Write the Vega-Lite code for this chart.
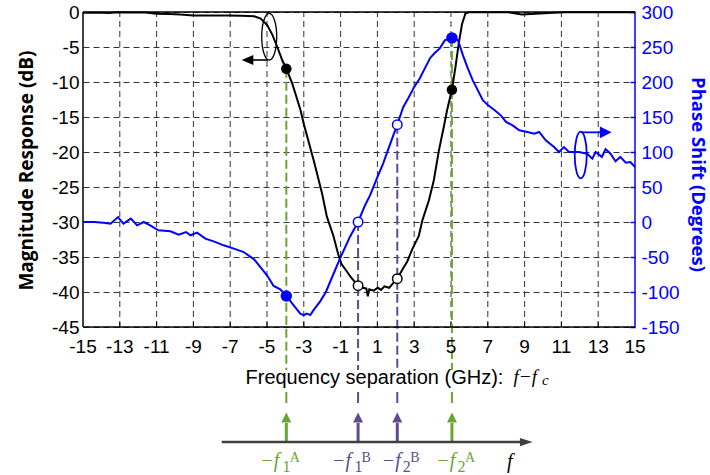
{
  "$schema": "https://vega.github.io/schema/vega-lite/v6.json",
  "width": 552,
  "height": 463,
  "autosize": {"type": "none"},
  "padding": {"left": 83, "top": 12, "right": 75, "bottom": 0},
  "background": "white",
  "config": {"view": {"stroke": null}, "font": "Liberation Sans"},
  "datasets": {
    "mag": [
      {"f": -15, "db": -0.1}, {"f": -14.5, "db": -0.12}, {"f": -14.0, "db": -0.1}, {"f": -13.6, "db": -0.15},
      {"f": -13.1, "db": -0.02}, {"f": -12.5, "db": -0.08}, {"f": -11.6, "db": -0.08}, {"f": -11.0, "db": -0.25},
      {"f": -10.3, "db": -0.3}, {"f": -9.7, "db": -0.35}, {"f": -9.0, "db": -0.5}, {"f": -8.0, "db": -0.5},
      {"f": -7.1, "db": -0.5}, {"f": -6.4, "db": -0.55}, {"f": -5.7, "db": -0.6}, {"f": -5.34, "db": -0.95},
      {"f": -4.98, "db": -1.9}, {"f": -4.7, "db": -3.3}, {"f": -4.44, "db": -5.0}, {"f": -4.17, "db": -6.9},
      {"f": -3.95, "db": -8.1}, {"f": -3.63, "db": -10.2}, {"f": -3.18, "db": -14.0}, {"f": -3.0, "db": -16.0},
      {"f": -2.46, "db": -21.2}, {"f": -2.0, "db": -26.0}, {"f": -1.75, "db": -29.2}, {"f": -1.39, "db": -32.0},
      {"f": -1.13, "db": -34.6}, {"f": -0.95, "db": -36.0}, {"f": -0.68, "db": -37.0}, {"f": -0.41, "db": -38.0},
      {"f": -0.05, "db": -39.1}, {"f": 0.21, "db": -39.4}, {"f": 0.4, "db": -39.5}, {"f": 0.48, "db": -40.6},
      {"f": 0.56, "db": -39.6}, {"f": 0.8, "db": -39.8}, {"f": 1.02, "db": -39.4}, {"f": 1.2, "db": -39.7},
      {"f": 1.38, "db": -39.2}, {"f": 1.64, "db": -39.4}, {"f": 1.8, "db": -38.9}, {"f": 2.08, "db": -38.1},
      {"f": 2.36, "db": -36.8}, {"f": 2.63, "db": -35.6}, {"f": 2.89, "db": -33.9}, {"f": 3.25, "db": -32.0},
      {"f": 3.44, "db": -29.8}, {"f": 3.8, "db": -26.9}, {"f": 4.07, "db": -24.0}, {"f": 4.34, "db": -19.8},
      {"f": 4.61, "db": -16.4}, {"f": 4.79, "db": -14.0}, {"f": 5.05, "db": -11.1}, {"f": 5.24, "db": -7.9},
      {"f": 5.42, "db": -4.5}, {"f": 5.6, "db": -1.7}, {"f": 5.78, "db": -0.24}, {"f": 5.96, "db": -0.05},
      {"f": 7.2, "db": -0.02}, {"f": 8.1, "db": -0.05}, {"f": 8.85, "db": -0.35}, {"f": 9.57, "db": -0.25},
      {"f": 10.3, "db": -0.15}, {"f": 11.2, "db": -0.02}, {"f": 12.1, "db": -0.03}, {"f": 13.5, "db": -0.05},
      {"f": 15.0, "db": -0.05}
    ],
    "phase": [
      {"f": -15, "deg": 0}, {"f": -14.4, "deg": 0}, {"f": -13.9, "deg": -1}, {"f": -13.5, "deg": -2.4},
      {"f": -13.1, "deg": 7}, {"f": -12.8, "deg": -2.4}, {"f": -12.4, "deg": 4.8}, {"f": -12.06, "deg": -4.8},
      {"f": -11.7, "deg": 0}, {"f": -11.3, "deg": -5.7}, {"f": -10.9, "deg": -11.9}, {"f": -10.25, "deg": -13.3},
      {"f": -9.8, "deg": -18}, {"f": -9.4, "deg": -14.3}, {"f": -9.16, "deg": -19}, {"f": -8.8, "deg": -15.2},
      {"f": -8.35, "deg": -23.8}, {"f": -7.9, "deg": -27.6}, {"f": -7.35, "deg": -33.3}, {"f": -6.8, "deg": -38},
      {"f": -6.27, "deg": -42.9}, {"f": -5.7, "deg": -53.3}, {"f": -5.36, "deg": -64.3}, {"f": -5.0, "deg": -76.2},
      {"f": -4.64, "deg": -91.4}, {"f": -4.28, "deg": -96.2}, {"f": -3.95, "deg": -105.7}, {"f": -3.55, "deg": -119},
      {"f": -3.19, "deg": -131}, {"f": -3.0, "deg": -133}, {"f": -2.83, "deg": -131}, {"f": -2.65, "deg": -133},
      {"f": -2.47, "deg": -126}, {"f": -2.1, "deg": -113}, {"f": -1.8, "deg": -100}, {"f": -1.4, "deg": -75},
      {"f": -1.03, "deg": -52}, {"f": -0.49, "deg": -21}, {"f": -0.05, "deg": 0}, {"f": 0.33, "deg": 24},
      {"f": 0.6, "deg": 38}, {"f": 1.0, "deg": 64}, {"f": 1.32, "deg": 84}, {"f": 1.7, "deg": 112},
      {"f": 2.08, "deg": 139}, {"f": 2.4, "deg": 164}, {"f": 2.7, "deg": 178}, {"f": 3.0, "deg": 193},
      {"f": 3.3, "deg": 205}, {"f": 3.55, "deg": 218}, {"f": 3.86, "deg": 234}, {"f": 4.1, "deg": 241},
      {"f": 4.39, "deg": 248}, {"f": 4.66, "deg": 259.5}, {"f": 5.05, "deg": 263}, {"f": 5.38, "deg": 259.5},
      {"f": 5.65, "deg": 238}, {"f": 5.92, "deg": 219}, {"f": 6.19, "deg": 202}, {"f": 6.46, "deg": 188},
      {"f": 6.73, "deg": 174}, {"f": 7.0, "deg": 167}, {"f": 7.36, "deg": 160}, {"f": 7.72, "deg": 152},
      {"f": 7.99, "deg": 143}, {"f": 8.35, "deg": 138}, {"f": 8.71, "deg": 131}, {"f": 9.16, "deg": 128.6},
      {"f": 9.52, "deg": 126}, {"f": 9.79, "deg": 128.6}, {"f": 10.15, "deg": 116.7}, {"f": 10.6, "deg": 107},
      {"f": 10.87, "deg": 100}, {"f": 11.14, "deg": 107}, {"f": 11.41, "deg": 100}, {"f": 11.95, "deg": 100},
      {"f": 12.4, "deg": 97.6}, {"f": 12.68, "deg": 90.5}, {"f": 12.86, "deg": 100}, {"f": 13.2, "deg": 93},
      {"f": 13.4, "deg": 104}, {"f": 13.67, "deg": 97.6}, {"f": 13.94, "deg": 86.7}, {"f": 14.2, "deg": 93},
      {"f": 14.5, "deg": 84.8}, {"f": 14.75, "deg": 85.7}, {"f": 15.0, "deg": 78.6}
    ],
    "magMarkers": [
      {"f": -3.95, "db": -8.1, "kind": "filled"}, {"f": 5.05, "db": -11.1, "kind": "filled"},
      {"f": -0.05, "db": -39.1, "kind": "open"}, {"f": 2.08, "db": -38.1, "kind": "open"}
    ],
    "phaseMarkers": [
      {"f": -3.95, "deg": -105.7, "kind": "filled"}, {"f": 5.05, "deg": 263, "kind": "filled"},
      {"f": -0.05, "deg": 0, "kind": "open"}, {"f": 2.08, "deg": 139, "kind": "open"}
    ],
    "tones": [
      {"f": -3.95, "top": -8.1, "pair": "A", "idx": "1"},
      {"f": -0.05, "top": -30, "pair": "B", "idx": "1"},
      {"f": 2.08, "top": -16.1, "pair": "B", "idx": "2"},
      {"f": 5.05, "top": -3.7, "pair": "A", "idx": "2"}
    ],
    "vgrid": [
      {"f": -13}, {"f": -11}, {"f": -9}, {"f": -7}, {"f": -5}, {"f": -3}, {"f": -1},
      {"f": 1}, {"f": 3}, {"f": 5}, {"f": 7}, {"f": 9}, {"f": 11}, {"f": 13}
    ],
    "xticks": [
      {"f": -15}, {"f": -13}, {"f": -11}, {"f": -9}, {"f": -7}, {"f": -5}, {"f": -3}, {"f": -1},
      {"f": 1}, {"f": 3}, {"f": 5}, {"f": 7}, {"f": 9}, {"f": 11}, {"f": 13}, {"f": 15}
    ]
  },
  "resolve": {"scale": {"y": "independent"}},
  "layer": [
    {
      "layer": [
        {
          "data": {"name": "vgrid"},
          "mark": {"type": "rule", "color": "#333333", "strokeWidth": 1, "strokeDash": [6, 4]},
          "encoding": {
            "x": {"field": "f", "type": "quantitative", "scale": {"domain": [-15, 15], "nice": false, "zero": false}},
            "y": {"datum": -45, "type": "quantitative", "scale": {"domain": [-66.142857, 0], "nice": false, "zero": false}},
            "y2": {"datum": 0}
          }
        },
        {
          "data": {"name": "vgrid"},
          "mark": {"type": "rule", "color": "#000000", "strokeWidth": 1},
          "encoding": {
            "x": {"field": "f", "type": "quantitative"},
            "y": {"datum": -45},
            "y2": {"datum": -44.3}
          }
        },
        {
          "data": {"name": "tones"},
          "mark": {"type": "rule", "strokeWidth": 2, "strokeDash": [9, 4]},
          "encoding": {
            "x": {"field": "f", "type": "quantitative"},
            "y": {"field": "top", "type": "quantitative"},
            "y2": {"datum": -51.14},
            "color": {"field": "pair", "type": "nominal", "scale": {"domain": ["A", "B"], "range": ["#6aa52f", "#5f4b8b"]}, "legend": null}
          }
        },
        {
          "data": {"name": "tones"},
          "mark": {"type": "rule", "strokeWidth": 2},
          "encoding": {
            "x": {"field": "f", "type": "quantitative"},
            "y": {"datum": -54.29},
            "y2": {"datum": -55.86},
            "color": {"field": "pair", "type": "nominal", "legend": null}
          }
        },
        {
          "data": {"values": [{}]},
          "mark": {"type": "rule", "color": "#000000", "strokeWidth": 1.5},
          "encoding": {"x": {"datum": -15}, "y": {"datum": -45}, "y2": {"datum": 0}}
        },
        {
          "data": {"values": [{}]},
          "mark": {"type": "rule", "color": "#000000", "strokeWidth": 1.5},
          "encoding": {"x": {"datum": -15}, "x2": {"datum": 15}, "y": {"datum": 0}}
        },
        {
          "data": {"values": [{}]},
          "mark": {"type": "rule", "color": "#000000", "strokeWidth": 1.5},
          "encoding": {"x": {"datum": -15}, "x2": {"datum": 15}, "y": {"datum": -45}}
        },
        {
          "data": {"values": [{}]},
          "mark": {"type": "rule", "color": "#0000FF", "strokeWidth": 1.5},
          "encoding": {"x": {"datum": 15}, "y": {"datum": -45}, "y2": {"datum": 0}}
        },
        {
          "data": {"name": "xticks"},
          "mark": {"type": "text", "fontSize": 19, "font": "Liberation Sans", "align": "center", "baseline": "alphabetic", "color": "#000000"},
          "encoding": {
            "x": {"field": "f", "type": "quantitative"},
            "y": {"datum": -48.71},
            "text": {"field": "f", "type": "nominal"}
          }
        },
        {
          "data": {"name": "mag"},
          "mark": {"type": "line", "color": "#000000", "strokeWidth": 2},
          "encoding": {
            "x": {
              "field": "f", "type": "quantitative",
              "axis": {
                "values": [-15, -13, -11, -9, -7, -5, -3, -1, 1, 3, 5, 7, 9, 11, 13, 15],
                "labels": false,
                "offset": -148, "domain": false, "ticks": false, "grid": false,
                "title": "Frequency separation (GHz):",
                "titleX": 162, "titleY": 56, "titleAlign": "left", "titleBaseline": "alphabetic",
                "titleFontSize": 20, "titleFontWeight": "normal", "titleFont": "Liberation Sans", "titleColor": "#000000"
              }
            },
            "y": {
              "field": "db", "type": "quantitative",
              "axis": {
                "values": [-45, -40, -35, -30, -25, -20, -15, -10, -5, 0],
                "labelExpr": "'' + datum.value",
                "labelOverlap": false,
                "domain": false, "ticks": false, "grid": true,
                "gridColor": "#333333", "gridDash": [6, 4], "gridWidth": 1,
                "labelPadding": 4, "labelFontSize": 19, "labelColor": "#000000", "labelFont": "Liberation Sans",
                "title": "Magnitude Response (dB)",
                "titleFont": "Open Sans", "titleFontWeight": "bold", "titleFontSize": 19, "titleColor": "#000000",
                "titleAngle": 270, "titleX": -57, "titleY": 158, "titleAlign": "center", "titleBaseline": "middle"
              }
            }
          }
        },
        {
          "data": {"name": "magMarkers"},
          "transform": [{"filter": "datum.kind == 'filled'"}],
          "mark": {"type": "circle", "color": "#000000", "size": 110, "opacity": 1},
          "encoding": {"x": {"field": "f", "type": "quantitative"}, "y": {"field": "db", "type": "quantitative"}}
        },
        {
          "data": {"name": "magMarkers"},
          "transform": [{"filter": "datum.kind == 'open'"}],
          "mark": {"type": "circle", "fill": "#ffffff", "stroke": "#000000", "strokeWidth": 1.5, "size": 90, "opacity": 1},
          "encoding": {"x": {"field": "f", "type": "quantitative"}, "y": {"field": "db", "type": "quantitative"}}
        },
        {
          "data": {"values": [{}]},
          "mark": {"type": "point", "shape": "M0,-1C0.178,-1,0.322,-0.552,0.322,0C0.322,0.552,0.178,1,0,1C-0.178,1,-0.322,0.552,-0.322,0C-0.322,-0.552,-0.178,-1,0,-1Z", "size": 2172, "filled": false, "color": "#000000", "strokeWidth": 1.3, "opacity": 1},
          "encoding": {"x": {"datum": -4.88}, "y": {"datum": -3.53}}
        },
        {
          "data": {"values": [{}]},
          "mark": {"type": "rule", "color": "#000000", "strokeWidth": 1.6},
          "encoding": {"x": {"datum": -4.946}, "x2": {"datum": -5.815}, "y": {"datum": -6.857}}
        },
        {
          "data": {"values": [{}]},
          "mark": {"type": "point", "shape": "M1,-0.86L-1,0L1,0.86Z", "size": 135, "filled": true, "color": "#000000", "strokeWidth": 0, "opacity": 1},
          "encoding": {"x": {"datum": -6.06}, "y": {"datum": -6.857}}
        },
        {
          "data": {"values": [{}]},
          "mark": {"type": "point", "shape": "M0,-1C0.142,-1,0.258,-0.552,0.258,0C0.258,0.552,0.142,1,0,1C-0.142,1,-0.258,0.552,-0.258,0C-0.258,-0.552,-0.142,-1,0,-1Z", "size": 2172, "filled": false, "color": "#0000FF", "strokeWidth": 1.8, "opacity": 1},
          "encoding": {"x": {"datum": 12.05}, "y": {"datum": -20.43}}
        },
        {
          "data": {"values": [{}]},
          "mark": {"type": "rule", "color": "#0000FF", "strokeWidth": 1.8},
          "encoding": {"x": {"datum": 12.1}, "x2": {"datum": 13.15}, "y": {"datum": -17.19}}
        },
        {
          "data": {"values": [{}]},
          "mark": {"type": "point", "shape": "M-1,-1L1,0L-1,1Z", "size": 137, "filled": true, "color": "#0000FF", "strokeWidth": 0, "opacity": 1},
          "encoding": {"x": {"datum": 13.41}, "y": {"datum": -17.19}}
        },
        {
          "data": {"name": "tones"},
          "mark": {"type": "rule", "strokeWidth": 3},
          "encoding": {
            "x": {"field": "f", "type": "quantitative"},
            "y": {"datum": -61.43},
            "y2": {"datum": -58.71},
            "color": {"field": "pair", "type": "nominal", "legend": null}
          }
        },
        {
          "data": {"name": "tones"},
          "mark": {"type": "point", "shape": "M-1,1L0,-1L1,1Z", "size": 100, "filled": true, "strokeWidth": 0, "opacity": 1},
          "encoding": {
            "x": {"field": "f", "type": "quantitative"},
            "y": {"datum": -57.93},
            "color": {"field": "pair", "type": "nominal", "legend": null}
          }
        },
        {
          "data": {"values": [{}]},
          "mark": {"type": "rule", "color": "#404040", "strokeWidth": 2.5},
          "encoding": {"x": {"datum": -7.46}, "x2": {"datum": 8.8}, "y": {"datum": -61.43}}
        },
        {
          "data": {"values": [{}]},
          "mark": {"type": "point", "shape": "M-1,-0.65L1,0L-1,0.65Z", "size": 161, "filled": true, "color": "#404040", "strokeWidth": 0, "opacity": 1},
          "encoding": {"x": {"datum": 9.09}, "y": {"datum": -61.43}}
        },
        {
          "data": {"name": "tones"},
          "transform": [{"filter": "datum.f < 1"}],
          "mark": {"type": "text", "text": "−f", "font": "Liberation Serif", "fontStyle": "italic", "fontSize": 20, "align": "left", "baseline": "alphabetic", "dx": -26},
          "encoding": {"x": {"field": "f", "type": "quantitative"}, "y": {"datum": -65.0}, "color": {"field": "pair", "type": "nominal", "legend": null}}
        },
        {
          "data": {"name": "tones"},
          "transform": [{"filter": "datum.f < 1"}],
          "mark": {"type": "text", "font": "Liberation Serif", "fontSize": 16, "align": "left", "baseline": "alphabetic", "dx": -3.7},
          "encoding": {"x": {"field": "f", "type": "quantitative"}, "y": {"datum": -65.67}, "text": {"field": "idx"}, "color": {"field": "pair", "type": "nominal", "legend": null}}
        },
        {
          "data": {"name": "tones"},
          "transform": [{"filter": "datum.f < 1"}],
          "mark": {"type": "text", "font": "Liberation Serif", "fontSize": 14, "align": "left", "baseline": "alphabetic", "dx": 3.4},
          "encoding": {"x": {"field": "f", "type": "quantitative"}, "y": {"datum": -64.24}, "text": {"field": "pair"}, "color": {"field": "pair", "type": "nominal", "legend": null}}
        },
        {
          "data": {"name": "tones"},
          "transform": [{"filter": "datum.f > 1"}],
          "mark": {"type": "text", "text": "−f", "font": "Liberation Serif", "fontStyle": "italic", "fontSize": 20, "align": "left", "baseline": "alphabetic", "dx": -15.6},
          "encoding": {"x": {"field": "f", "type": "quantitative"}, "y": {"datum": -65.0}, "color": {"field": "pair", "type": "nominal", "legend": null}}
        },
        {
          "data": {"name": "tones"},
          "transform": [{"filter": "datum.f > 1"}],
          "mark": {"type": "text", "font": "Liberation Serif", "fontSize": 16, "align": "left", "baseline": "alphabetic", "dx": 5.5},
          "encoding": {"x": {"field": "f", "type": "quantitative"}, "y": {"datum": -65.67}, "text": {"field": "idx"}, "color": {"field": "pair", "type": "nominal", "legend": null}}
        },
        {
          "data": {"name": "tones"},
          "transform": [{"filter": "datum.f > 1"}],
          "mark": {"type": "text", "font": "Liberation Serif", "fontSize": 14, "align": "left", "baseline": "alphabetic", "dx": 13},
          "encoding": {"x": {"field": "f", "type": "quantitative"}, "y": {"datum": -64.24}, "text": {"field": "pair"}, "color": {"field": "pair", "type": "nominal", "legend": null}}
        },
        {
          "data": {"values": [{}]},
          "mark": {"type": "text", "text": "f", "font": "Liberation Serif", "fontStyle": "italic", "fontSize": 20, "align": "left", "baseline": "alphabetic", "color": "#000000"},
          "encoding": {"x": {"datum": 8.04}, "y": {"datum": -65.1}}
        },
        {
          "data": {"values": [{}]},
          "mark": {"type": "text", "text": "f−f", "font": "Liberation Serif", "fontStyle": "italic", "fontSize": 19, "align": "left", "baseline": "alphabetic", "color": "#000000"},
          "encoding": {"x": {"datum": 8.4}, "y": {"datum": -52.96}}
        },
        {
          "data": {"values": [{}]},
          "mark": {"type": "text", "text": "c", "font": "Liberation Serif", "fontStyle": "italic", "fontSize": 15, "align": "left", "baseline": "alphabetic", "color": "#000000"},
          "encoding": {"x": {"datum": 9.95}, "y": {"datum": -53.29}}
        }
      ]
    },
    {
      "layer": [
        {
          "data": {"name": "phase"},
          "mark": {"type": "line", "color": "#0000FF", "strokeWidth": 2},
          "encoding": {
            "x": {"field": "f", "type": "quantitative"},
            "y": {
              "field": "deg", "type": "quantitative",
              "scale": {"domain": [-361.428571, 300], "nice": false, "zero": false},
              "axis": {
                "orient": "right",
                "values": [-150, -100, -50, 0, 50, 100, 150, 200, 250, 300],
                "labelExpr": "'' + datum.value",
                "labelOverlap": false,
                "domain": false, "grid": false, "ticks": true, "tickSize": -5, "tickColor": "#0000FF", "tickWidth": 1.5,
                "labelPadding": 11, "labelFontSize": 19, "labelColor": "#0000FF", "labelFont": "Liberation Sans",
                "title": "Phase Shift (Degrees)",
                "titleFont": "Open Sans", "titleFontWeight": "bold", "titleFontSize": 18.5, "titleColor": "#0000FF",
                "titleAngle": 90, "titleX": 62, "titleY": 162, "titleAlign": "center", "titleBaseline": "middle"
              }
            }
          }
        },
        {
          "data": {"name": "phaseMarkers"},
          "transform": [{"filter": "datum.kind == 'filled'"}],
          "mark": {"type": "circle", "color": "#0000FF", "size": 130, "opacity": 1},
          "encoding": {"x": {"field": "f", "type": "quantitative"}, "y": {"field": "deg", "type": "quantitative"}}
        },
        {
          "data": {"name": "phaseMarkers"},
          "transform": [{"filter": "datum.kind == 'open'"}],
          "mark": {"type": "circle", "fill": "#ffffff", "stroke": "#0000FF", "strokeWidth": 1.5, "size": 90, "opacity": 1},
          "encoding": {"x": {"field": "f", "type": "quantitative"}, "y": {"field": "deg", "type": "quantitative"}}
        }
      ]
    }
  ]
}
